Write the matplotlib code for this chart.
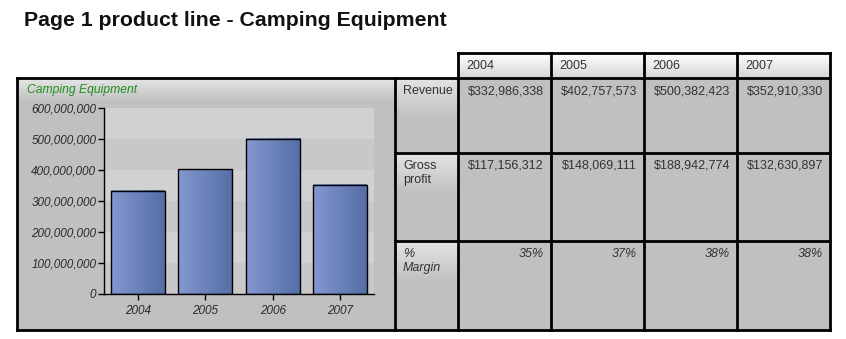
import matplotlib
matplotlib.use("Agg")
import matplotlib.pyplot as plt
import numpy as np

# report data
years = ["2004", "2005", "2006", "2007"]
revenue = [332986338, 402757573, 500382423, 352910330]
gross_profit = [117156312, 148069111, 188942774, 132630897]
row_labels = ["Revenue", "Gross\nprofit", "%\nMargin"]
y_ticks = [0, 100000000, 200000000, 300000000, 400000000, 500000000, 600000000]

W, H = 846, 339
fig = plt.figure(figsize=(W / 100, H / 100), dpi=100)
fig.patch.set_facecolor("white")

# a pixel-space canvas for the page layout (table, panels, borders)
bg = fig.add_axes([0, 0, 1, 1])
bg.set_xlim(0, W)
bg.set_ylim(H, 0)
bg.axis("off")

TXT = "#333333"
GRAY = "#c0c0c0"


def vgrad(ax, x0, x1, y0, y1, top, bottom, z=0):
    c0 = np.array(matplotlib.colors.to_rgb(top))
    c1 = np.array(matplotlib.colors.to_rgb(bottom))
    t = np.linspace(0, 1, 64)[:, None]
    img = (c0 * (1 - t) + c1 * t)[:, None, :]
    ax.imshow(img, extent=(x0, x1, y1, y0), aspect="auto", zorder=z,
              interpolation="bilinear")


def line(x0, y0, x1, y1, lw=2.0):
    bg.plot([x0, x1], [y0, y1], color="black", lw=lw, zorder=5,
            solid_capstyle="projecting")


# title
bg.text(24, 21, "Page 1 product line - Camping Equipment", fontsize=15.3,
        fontweight="bold", family="Liberation Sans", color="#111111", va="center")

# column and row edges
col_x = [458, 551, 644, 737, 830]
row_y = [78, 153, 241, 330]
left, split = 17, 395
head_top = 53

# chart panel background
bg.add_patch(plt.Rectangle((left, 78), split - left, 252, color=GRAY, zorder=0))
vgrad(bg, left, split, 78, 102, "#e6e6e6", GRAY, z=1)

# data cells
bg.add_patch(plt.Rectangle((split, 78), col_x[-1] - split, 252, color=GRAY, zorder=0))

# header cells
for i in range(len(years)):
    vgrad(bg, col_x[i], col_x[i + 1], head_top, 78, "#ffffff", "#d6d6d6", z=1)
    bg.text(col_x[i] + 8, 66, years[i], fontsize=9, family="Liberation Sans",
            color=TXT, va="center")

# row label cells
for r in range(3):
    vgrad(bg, split, col_x[0], row_y[r], row_y[r] + 40, "#e4e4e4", GRAY, z=1)

italic_rows = [False, False, True]
for r, lab in enumerate(row_labels):
    bg.text(split + 8, row_y[r] + 7, lab, fontsize=9, family="Liberation Sans",
            color=TXT, va="top", linespacing=1.25,
            style="italic" if italic_rows[r] else "normal")

# table values
margin = [g / r for g, r in zip(gross_profit, revenue)]
rows_txt = [
    ["${:,}".format(v) for v in revenue],
    ["${:,}".format(v) for v in gross_profit],
    ["{:.0%}".format(m) for m in margin],
]
for r in range(3):
    for i in range(len(years)):
        bg.text(col_x[i + 1] - 7, row_y[r] + 7, rows_txt[r][i], fontsize=9,
                family="Liberation Sans", color=TXT, va="top", ha="right",
                style="italic" if italic_rows[r] else "normal")

# grid lines
line(col_x[0], head_top, col_x[-1], head_top)
line(left, 78, col_x[-1], 78)
line(left, 330, col_x[-1], 330)
line(left, 78, left, 330)
line(split, 78, split, 330)
for x in col_x:
    line(x, head_top, x, 330)
for y in row_y[1:-1]:
    line(split, y, col_x[-1], y)

# chart title
bg.text(27, 90, "Camping Equipment", fontsize=8.7, style="italic",
        family="Liberation Sans", color="#1f8f1f", va="center", zorder=3)

# bar chart
px0, px1, py0, py1 = 104, 374, 108, 294
ax = fig.add_axes([px0 / W, 1 - py1 / H, (px1 - px0) / W, (py1 - py0) / H])
ax.set_facecolor("#cfcfcf")
for k in range(6):
    ax.axhspan(y_ticks[k], y_ticks[k + 1],
               color="#c8c8c8" if k % 2 == 0 else "#d1d1d1", zorder=0, lw=0)

bar_w = 0.8
left_c = np.array(matplotlib.colors.to_rgb("#8497d0"))
right_c = np.array(matplotlib.colors.to_rgb("#546ea6"))
t = np.linspace(0, 1, 64)[None, :, None]
grad = left_c * (1 - t) + right_c * t
bars = ax.bar(range(len(years)), revenue, width=bar_w, facecolor="none",
              edgecolor="black", lw=1.0, zorder=3)
for b in bars:
    x0 = b.get_x()
    ax.imshow(grad, extent=(x0, x0 + bar_w, 0, b.get_height()), aspect="auto",
              zorder=2, interpolation="bilinear")
ax.set_xlim(-0.5, len(years) - 0.5)
ax.set_ylim(0, 600000000)

ax.set_xticks(range(len(years)))
ax.set_xticklabels(years)
ax.set_yticks(y_ticks)
ax.set_yticklabels(["{:,}".format(v) for v in y_ticks])
for s in ["top", "right"]:
    ax.spines[s].set_visible(False)
for s in ["left", "bottom"]:
    ax.spines[s].set_linewidth(1.0)
    ax.spines[s].set_color("black")
ax.tick_params(axis="both", length=4, width=1.0, color="black")
ax.tick_params(axis="y", pad=1.5)
ax.tick_params(axis="x", pad=4)
for lab in ax.get_xticklabels() + ax.get_yticklabels():
    lab.set_family("Liberation Sans")
    lab.set_style("italic")
    lab.set_fontsize(8.5)
    lab.set_color("#2a2a2a")

fig.savefig("out.png", dpi=100, facecolor="white")
